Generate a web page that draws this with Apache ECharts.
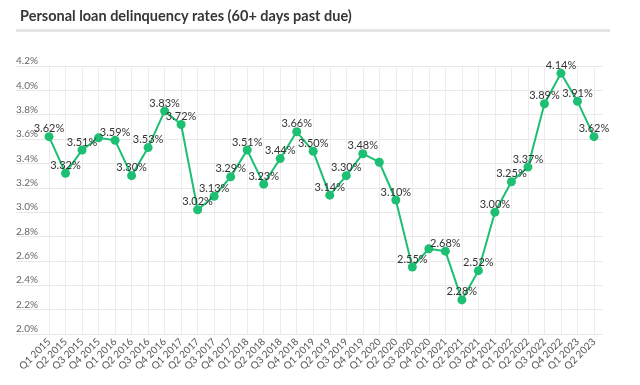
<!DOCTYPE html>
<html>
<head>
<meta charset="utf-8">
<style>
  html, body { margin: 0; padding: 0; background: #fff; }
  #chart { width: 640px; height: 385px; }
</style>
<script src="https://cdn.jsdelivr.net/npm/echarts@6/dist/echarts.min.js"></script>
</head>
<body>
<div id="chart"></div>
<script>
// quarters on the x axis
const quarters = [
  'Q1 2015', 'Q2 2015', 'Q3 2015', 'Q4 2015',
  'Q1 2016', 'Q2 2016', 'Q3 2016', 'Q4 2016',
  'Q1 2017', 'Q2 2017', 'Q3 2017', 'Q4 2017',
  'Q1 2018', 'Q2 2018', 'Q3 2018', 'Q4 2018',
  'Q1 2019', 'Q2 2019', 'Q3 2019', 'Q4 2019',
  'Q1 2020', 'Q2 2020', 'Q3 2020', 'Q4 2020',
  'Q1 2021', 'Q2 2021', 'Q3 2021', 'Q4 2021',
  'Q1 2022', 'Q2 2022', 'Q3 2022', 'Q4 2022',
  'Q1 2023', 'Q2 2023'
];
// delinquency rate, %
const rates = [
  3.62, 3.32, 3.51, 3.61,
  3.59, 3.30, 3.53, 3.83,
  3.72, 3.02, 3.13, 3.29,
  3.51, 3.23, 3.44, 3.66,
  3.50, 3.14, 3.30, 3.48,
  3.41, 3.10, 2.55, 2.70,
  2.68, 2.28, 2.52, 3.00,
  3.25, 3.37, 3.89, 4.14,
  3.91, 3.62
];
// points whose value label is not shown (overlapping ones)
const hiddenLabels = ['Q4 2015', 'Q1 2020', 'Q4 2020'];

const yMin = 2.0;
const yMax = 4.2;
const yStep = 0.2;

const chart = echarts.init(document.getElementById('chart'));

const font = 'Lato, "Open Sans", sans-serif';
const green = '#1dbf73';

const option = {
  animation: false,
  textStyle: { fontFamily: font },
  title: {
    text: 'Personal loan delinquency rates (60+ days past due)',
    left: 15,
    top: 4,
    textStyle: { fontFamily: font, fontSize: 14.5, fontWeight: 'bold', color: '#363636' }
  },
  graphic: [
    {
      type: 'rect',
      left: 16,
      top: 29,
      shape: { width: 594, height: 3 },
      style: { fill: '#e5e5e5' }
    }
  ],
  grid: [
    // wide grid: horizontal lines + y labels
    { left: 16, right: 37, top: 66, bottom: 51 },
    // data grid
    { left: 49, right: 46, top: 66, bottom: 51 }
  ],
  xAxis: [
    { type: 'value', gridIndex: 0, show: false, min: 0, max: 1 },
    {
      type: 'category',
      gridIndex: 1,
      data: quarters,
      boundaryGap: false,
      axisLine: { show: false },
      axisTick: { show: false },
      splitLine: { show: true, lineStyle: { color: '#ececec', width: 1 } },
      axisLabel: {
        interval: 0,
        rotate: 45,
        margin: 6,
        fontSize: 10,
        color: '#555',
        fontFamily: font
      }
    }
  ],
  yAxis: [
    {
      type: 'value',
      gridIndex: 0,
      min: yMin,
      max: yMax,
      interval: yStep,
      axisLine: { show: false },
      axisTick: { show: false },
      splitLine: { show: true, lineStyle: { color: '#e8e8e8', width: 1 } },
      axisLabel: {
        inside: true,
        margin: 0,
        align: 'left',
        verticalAlign: 'bottom',
        fontSize: 10,
        color: '#666',
        fontFamily: font,
        formatter: (v) => v.toFixed(1) + '%'
      }
    },
    {
      type: 'value',
      gridIndex: 1,
      min: yMin,
      max: yMax,
      interval: yStep,
      show: false,
      splitLine: { show: false }
    }
  ],
  series: [
    {
      type: 'line',
      xAxisIndex: 1,
      yAxisIndex: 1,
      symbol: 'circle',
      symbolSize: 9,
      itemStyle: { color: green },
      lineStyle: { color: green, width: 2 },
      label: {
        show: true,
        position: 'top',
        distance: -2,
        fontSize: 11,
        color: '#333',
        fontFamily: font,
        formatter: (p) => p.value.toFixed(2) + '%'
      },
      data: rates.map((v, i) => ({
        value: v,
        label: { show: hiddenLabels.indexOf(quarters[i]) < 0 }
      }))
    }
  ]
};

chart.setOption(option);
window.addEventListener('resize', () => chart.resize());
</script>
</body>
</html>
